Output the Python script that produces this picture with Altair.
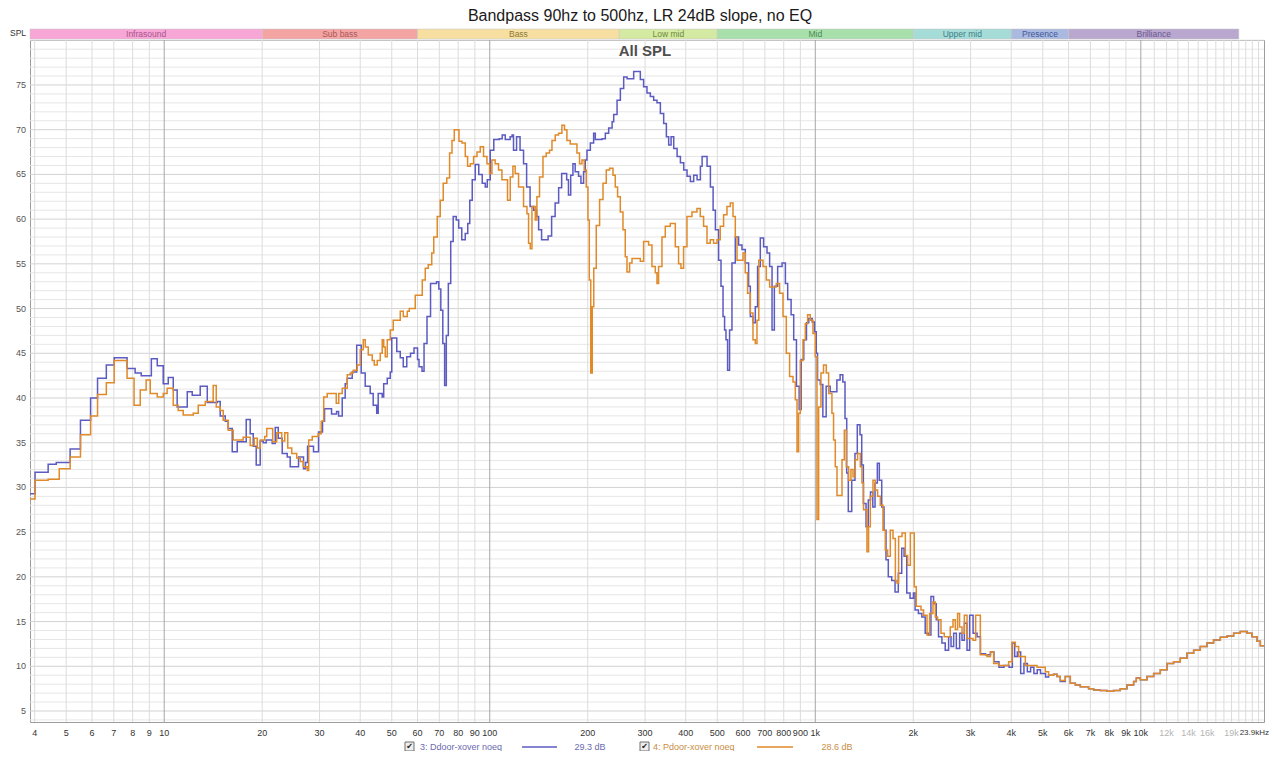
import altair as alt
import pandas as pd

# ---------------- text ----------------
title_text = "Bandpass 90hz to 500hz, LR 24dB slope, no EQ"
inner_title = "All SPL"
axis_name = "SPL"
series_names = ["3: Ddoor-xover noeq", "4: Pdoor-xover noeq"]
series_levels = ["29.3 dB", "28.6 dB"]
series_colors = ["#5b5bc2", "#e08a2a"]
legend_text_colors = ["#6a6ab0", "#c98d45"]

# ---------------- data (frequency Hz, level dB) ----------------
ddoor_points = [
    (3.87, 29.3), (4.01, 31.7), (4.40, 32.6), (4.66, 32.8), (5.14, 34.3), (5.53, 37.5), (5.94, 40.0),
    (6.24, 42.2), (6.64, 43.7), (7.02, 44.5), (7.69, 43.3), (8.14, 42.8), (8.50, 42.5), (9.13, 44.4),
    (9.52, 43.6), (9.93, 41.6), (10.29, 42.3), (10.66, 40.9), (10.96, 39.0), (11.77, 40.7), (12.19, 40.3),
    (12.90, 41.3), (13.56, 39.5), (14.55, 39.6), (14.86, 38.0), (15.40, 37.4), (15.72, 36.6), (16.18, 34.0),
    (16.76, 35.1), (17.86, 37.6), (18.37, 36.0), (18.77, 34.6), (19.17, 32.5), (19.72, 35.2), (20.14, 35.0),
    (20.57, 35.3), (21.47, 34.9), (21.93, 36.7), (22.40, 35.5), (23.04, 33.8), (23.87, 33.4), (24.38, 32.3),
    (25.86, 33.4), (26.79, 32.1), (27.17, 32.8), (27.56, 34.6), (28.75, 34.0), (29.79, 36.2), (30.64, 37.4),
    (31.08, 38.8), (32.66, 38.2), (33.84, 38.5), (34.33, 38.0), (35.22, 40.0), (35.97, 41.6), (36.48, 42.2),
    (37.80, 42.9), (39.02, 45.9), (40.28, 42.8), (41.44, 41.3), (42.93, 40.5), (43.85, 39.2), (44.95, 38.3),
    (45.43, 40.5), (46.73, 40.1), (47.23, 41.6), (48.43, 42.2), (49.47, 42.9), (50.0, 46.7), (51.80, 45.2),
    (53.10, 44.5), (54.24, 43.5), (55.60, 44.6), (57.10, 45.0), (58.53, 45.6), (60.0, 44.3), (60.64, 43.5),
    (61.94, 43.0), (62.83, 46.1), (64.16, 49.1), (65.78, 52.8), (68.63, 53.0), (69.75, 52.2), (70.74, 49.8),
    (71.75, 46.1), (72.67, 41.4), (73.55, 47.0), (74.60, 52.8), (75.87, 57.5), (77.22, 60.3), (78.89, 59.9),
    (80.28, 59.0), (82.04, 57.7), (84.09, 58.4), (85.59, 59.5), (86.81, 62.1), (88.35, 64.4), (90.25, 66.1),
    (92.52, 65.0), (94.83, 64.0), (96.87, 63.6), (98.25, 64.4), (100.35, 67.7), (102.9, 68.9), (106.9, 69.0),
    (109.2, 69.4), (111.6, 68.9), (115.5, 69.2), (117.1, 69.4), (118.3, 67.7), (120.9, 69.2), (123.9, 67.7),
    (127.0, 66.2), (129.8, 63.6), (133.0, 61.4), (136.4, 61.0), (139.3, 60.3), (141.3, 58.8), (144.3, 57.7),
    (151.1, 58.1), (154.9, 60.3), (158.8, 61.8), (162.8, 63.5), (166.3, 65.1), (172.3, 64.4), (174.5, 62.7),
    (177.3, 64.9), (180.1, 66.2), (183.0, 65.3), (187.4, 64.8), (190.6, 64.0), (194.2, 65.3), (196.5, 66.6),
    (198.9, 67.7), (203.7, 68.5), (208.5, 69.6), (211.0, 68.9), (221.2, 69.0), (226.5, 69.6), (231.9, 70.2),
    (237.6, 70.9), (240.3, 71.7), (246.1, 73.3), (251.9, 74.6), (257.9, 75.9), (264.2, 75.7), (276.8, 76.5),
    (290.1, 75.6), (296.9, 74.8), (304.1, 74.1), (311.4, 73.7), (318.8, 73.3), (326.4, 73.0), (334.3, 71.8),
    (342.2, 70.7), (348.8, 69.2), (354.5, 68.3), (360.6, 69.2), (367.4, 67.9), (376.3, 67.0), (385.2, 66.3),
    (394.3, 65.5), (403.7, 64.8), (413.3, 64.2), (423.1, 64.9), (433.4, 64.4), (443.7, 65.9), (449.1, 67.0),
    (465.1, 65.9), (476.2, 63.6), (485.4, 61.0), (493.3, 58.8), (504.7, 55.4), (513.3, 52.5), (520.7, 49.1),
    (526.5, 47.6), (531.7, 46.5), (537.8, 43.1), (545.4, 47.6), (554.7, 55.1), (567.9, 58.0), (581.4, 57.1),
    (595.5, 56.6), (609.6, 55.1), (624.0, 52.5), (631.6, 49.1), (643.7, 48.4), (654.2, 50.2), (664.9, 54.7),
    (677.8, 57.9), (693.8, 56.9), (710.8, 56.2), (724.0, 54.7), (736.5, 47.6), (748.6, 52.5), (766.3, 54.7),
    (790.6, 55.1), (809.4, 52.8), (822.7, 51.0), (842.8, 49.3), (858.5, 46.5), (875.2, 41.3), (892.2, 38.7),
    (905.0, 44.3), (921.8, 46.5), (939.6, 48.4), (955.0, 48.9), (978.3, 48.5), (994.3, 47.4), (1007, 45.0),
    (1016, 42.0), (1036, 41.5), (1055, 37.9), (1080, 41.3), (1111, 40.7), (1165, 42.0), (1192, 42.6),
    (1215, 41.8), (1234, 37.7), (1249, 31.6), (1263, 27.3), (1294, 30.8), (1324, 33.8), (1346, 37.0),
    (1372, 35.9), (1389, 32.5), (1405, 28.2), (1432, 25.6), (1455, 28.6), (1478, 29.5), (1502, 27.8),
    (1526, 30.5), (1551, 32.7), (1573, 30.8), (1600, 27.8), (1626, 25.2), (1649, 21.9), (1676, 20.0),
    (1717, 19.6), (1758, 18.3), (1799, 20.4), (1843, 23.2), (1874, 22.3), (1910, 18.2), (1955, 17.6),
    (2002, 18.2), (2026, 16.3), (2074, 15.9), (2125, 15.5), (2176, 13.7), (2228, 13.5), (2266, 17.8),
    (2309, 17.0), (2353, 15.2), (2391, 13.3), (2449, 12.6), (2507, 11.8), (2568, 13.3), (2612, 12.2),
    (2661, 13.7), (2712, 12.0), (2776, 13.7), (2823, 12.9), (2870, 14.8), (2925, 11.8), (2980, 15.7),
    (3053, 13.7), (3141, 13.3), (3216, 11.4), (3333, 11.3), (3455, 11.6), (3538, 10.5), (3666, 9.9),
    (3799, 10.1), (3937, 9.9), (4031, 12.6), (4097, 11.1), (4176, 11.6), (4275, 9.2), (4375, 10.3),
    (4481, 9.4), (4586, 9.9), (4694, 9.2), (4807, 9.6), (4919, 9.2), (5097, 8.8),
    (5209, 9.0), (5397, 9.1), (5528, 8.85), (5657, 8.3), (5861, 8.85), (6073, 8.1), (6293, 7.9),
    (6519, 7.7), (6911, 7.5), (7161, 7.35), (7508, 7.3), (7874, 7.2), (8249, 7.3), (8650, 7.5),
    (9069, 7.9), (9504, 8.3), (9687, 8.7), (9965, 8.5), (10450, 8.85), (10950, 9.2), (11480, 9.6),
    (12040, 10.3), (12610, 10.5), (13220, 10.9), (13860, 11.45), (14530, 11.8), (15230, 12.2),
    (15970, 12.6), (16730, 12.95), (17550, 13.25), (18400, 13.4), (19280, 13.7), (20210, 13.9),
    (21200, 13.7), (21960, 13.3), (22750, 12.8), (23290, 12.3), (23900, 12.2),
]

pdoor_points = [
    (3.87, 28.7), (4.01, 30.8), (4.40, 30.9), (4.76, 32.1), (5.14, 33.4), (5.53, 35.9), (5.94, 38.0),
    (6.24, 40.4), (6.64, 41.7), (7.02, 44.2), (7.69, 42.2), (8.08, 39.2), (8.44, 40.9), (8.80, 42.0),
    (9.06, 40.5), (9.52, 40.1), (9.93, 40.5), (10.21, 41.1), (10.66, 39.2), (11.04, 38.6), (11.44, 38.1),
    (12.28, 38.3), (12.72, 39.2), (13.37, 39.6), (14.14, 41.4), (14.45, 39.0), (14.86, 38.6), (15.18, 37.5),
    (15.72, 36.4), (16.29, 35.3), (17.48, 35.6), (18.37, 34.7), (18.90, 35.5), (19.31, 34.4), (19.72, 35.3),
    (20.36, 35.7), (20.65, 36.6), (21.54, 35.1), (22.16, 36.1), (22.96, 35.2), (23.46, 36.1), (23.96, 34.4),
    (24.65, 33.8), (25.53, 33.3), (26.17, 32.9), (26.73, 32.3), (27.50, 31.9), (27.79, 35.3), (28.49, 35.7),
    (29.72, 36.0), (30.36, 37.4), (30.90, 40.1), (31.68, 40.5), (33.76, 39.4), (34.37, 40.5), (35.23, 41.1),
    (36.50, 42.6), (37.28, 42.8), (38.08, 43.1), (39.17, 43.7), (40.01, 45.4), (40.87, 46.5), (41.46, 45.7),
    (42.35, 44.8), (43.55, 44.2), (44.18, 43.7), (45.12, 44.2), (46.09, 45.0), (46.74, 46.5), (47.24, 45.7),
    (47.75, 44.6), (48.43, 46.5), (49.47, 47.6), (50.53, 48.7), (53.10, 49.7), (54.25, 49.1), (55.80, 49.7),
    (56.60, 50.0), (59.04, 51.5), (62.04, 53.2), (63.37, 54.5), (64.73, 54.9), (66.34, 56.2), (67.30, 58.0),
    (68.98, 60.3), (70.46, 62.1), (71.97, 64.0), (73.79, 64.6), (75.27, 67.4), (76.56, 68.8), (77.81, 70.0),
    (80.44, 68.7), (82.17, 68.5), (84.11, 67.0), (85.49, 65.9), (87.14, 66.2), (89.19, 67.0), (91.37, 67.5),
    (93.51, 68.1), (95.70, 67.0), (98.03, 66.2), (99.86, 65.1), (101.55, 66.6), (103.9, 66.2), (106.4, 65.5),
    (109.0, 64.4), (113.4, 62.1), (115.6, 64.7), (117.8, 65.9), (119.7, 65.1), (122.6, 63.6), (127.0, 61.4),
    (130.1, 60.6), (131.6, 57.3), (133.2, 56.7), (134.8, 61.4), (138.0, 59.9), (139.6, 62.5), (142.2, 64.7),
    (145.7, 67.0), (149.1, 67.4), (152.6, 67.7), (155.3, 68.8), (158.9, 69.4), (162.7, 69.6), (166.6, 70.5),
    (169.7, 70.0), (172.6, 68.8), (176.7, 68.4), (185.3, 67.4), (188.7, 66.2), (192.0, 66.6), (195.1, 65.5),
    (197.9, 63.6), (200.3, 59.9), (202.2, 53.2), (204.3, 42.8), (206.5, 50.2), (208.7, 54.5), (212.4, 59.3),
    (217.5, 62.2), (222.8, 64.0), (228.0, 65.5), (233.4, 65.7), (239.1, 64.9), (243.0, 63.6), (247.0, 62.5),
    (251.8, 60.8), (256.6, 58.8), (260.8, 55.8), (264.0, 54.1), (268.9, 55.1), (273.5, 55.6), (290.0, 55.3),
    (296.9, 57.5), (307.6, 57.1), (315.0, 54.7), (322.5, 54.0), (326.4, 52.8), (330.1, 54.7), (338.1, 58.0),
    (346.1, 59.2), (358.5, 59.5), (371.5, 56.9), (380.2, 55.0), (386.7, 54.5), (393.9, 56.9), (403.5, 60.3),
    (418.0, 60.8), (433.0, 61.2), (443.3, 60.3), (453.8, 59.2), (464.9, 57.3), (475.8, 57.7), (487.1, 57.3),
    (498.9, 57.7), (510.6, 59.2), (522.8, 60.5), (535.5, 61.4), (548.2, 61.8), (558.8, 60.3), (567.9, 58.0),
    (574.9, 55.4), (588.4, 55.4), (599.8, 56.2), (609.5, 54.0), (619.5, 51.7), (631.4, 49.5), (643.6, 46.5),
    (654.2, 46.1), (662.1, 48.7), (670.6, 55.4), (690.8, 54.7), (707.2, 53.2), (723.9, 52.4), (759.0, 52.8),
    (776.9, 51.7), (795.9, 49.1), (814.6, 45.0), (833.8, 42.4), (854.2, 41.8), (868.3, 39.8), (878.8, 34.0),
    (888.8, 38.3), (899.5, 44.2), (916.8, 46.5), (931.8, 48.3), (947.3, 49.3), (965.0, 48.7), (983.8, 47.2),
    (1000, 44.6), (1012, 26.4), (1024, 39.0), (1041, 42.8), (1060, 43.7), (1081, 42.8), (1099, 40.5),
    (1125, 38.3), (1138, 35.3), (1152, 32.3), (1166, 29.1), (1208, 33.1), (1228, 36.4), (1245, 32.3),
    (1266, 30.8), (1287, 32.0), (1306, 31.2), (1327, 33.1), (1349, 33.8), (1375, 32.3), (1391, 30.5),
    (1407, 27.5), (1441, 22.8), (1458, 25.6), (1476, 29.0), (1504, 30.8), (1529, 29.7), (1554, 29.0),
    (1584, 28.0), (1614, 25.2), (1641, 23.0), (1668, 22.3), (1700, 25.2), (1733, 24.3), (1762, 19.6),
    (1782, 19.3), (1803, 24.5), (1847, 24.9), (1891, 22.4), (1922, 21.3), (1959, 24.9), (2014, 18.9),
    (2043, 16.7), (2112, 16.3), (2151, 15.7), (2204, 13.5), (2245, 15.9), (2299, 17.2), (2337, 15.5),
    (2375, 15.2), (2433, 13.7), (2490, 13.3), (2598, 14.4), (2649, 15.2), (2692, 14.1), (2736, 15.9),
    (2775, 14.4), (2823, 13.7), (2870, 15.7), (2925, 13.1), (3052, 12.9), (3109, 15.7), (3214, 11.3),
    (3370, 11.1), (3449, 11.6), (3531, 10.3), (3658, 10.1), (3926, 10.5), (4021, 12.7), (4116, 12.2),
    (4214, 11.1), (4418, 10.1), (4799, 9.9), (5088, 9.4),
    (5209, 9.0), (5397, 9.1), (5528, 8.85), (5657, 8.4), (5861, 8.85), (6073, 8.1), (6293, 7.9),
    (6519, 7.7), (6911, 7.5), (7161, 7.35), (7508, 7.3), (7874, 7.2), (8249, 7.3), (8650, 7.5),
    (9069, 7.9), (9504, 8.3), (9687, 8.7), (9965, 8.5), (10450, 8.85), (10950, 9.2), (11480, 9.6),
    (12040, 10.3), (12610, 10.5), (13220, 10.9), (13860, 11.45), (14530, 11.8), (15230, 12.2),
    (15970, 12.6), (16730, 12.95), (17550, 13.25), (18400, 13.4), (19280, 13.7), (20210, 13.9),
    (21200, 13.7), (21960, 13.3), (22750, 12.8), (23290, 12.3), (23900, 12.2),
]

# ---------------- frequency bands ----------------
band_names = ["Infrasound", "Sub bass", "Bass", "Low mid", "Mid", "Upper mid", "Presence", "Brilliance"]
band_start = [3.87, 20, 60, 250, 500, 2000, 4000, 6000]
band_end = [20, 60, 250, 500, 2000, 4000, 6000, 20000]
band_fill = ["#f7a6d6", "#f5a4a4", "#f6dfa0", "#d4e9a2", "#a7e0aa", "#a5dcd8", "#a9b9e0", "#b9a7d0"]
band_text_color = ["#a8558a", "#a85a5a", "#8c7838", "#6d8a3a", "#4b8a55", "#3f8085", "#42579a", "#6a5a8c"]

# ---------------- axis ticks ----------------
x_label_values = [4, 5, 6, 7, 8, 9, 10, 20, 30, 40, 50, 60, 70, 80, 90, 100, 200, 300, 400, 500, 600, 700,
                  800, 900, 1000, 2000, 3000, 4000, 5000, 6000, 7000, 8000, 9000, 10000, 12000, 14000, 16000, 19000]
x_label_texts = ["4", "5", "6", "7", "8", "9", "10", "20", "30", "40", "50", "60", "70", "80", "90", "100",
                 "200", "300", "400", "500", "600", "700", "800", "900", "1k", "2k", "3k", "4k", "5k", "6k",
                 "7k", "8k", "9k", "10k", "12k", "14k", "16k", "19k"]
x_label_faint = ["12k", "14k", "16k", "19k"]
x_end_label = "23.9kHz"
x_grid_minor = [4, 5, 6, 7, 8, 9, 20, 30, 40, 50, 60, 70, 80, 90, 200, 300, 400, 500, 600, 700, 800, 900,
                2000, 3000, 4000, 5000, 6000, 7000, 8000, 9000, 11000, 12000, 13000, 14000, 15000, 16000,
                17000, 18000, 19000, 20000, 21000, 22000, 23000]
x_grid_major = [10, 100, 1000, 10000]
y_label_values = [5, 10, 15, 20, 25, 30, 35, 40, 45, 50, 55, 60, 65, 70, 75]
y_grid_values = list(range(4, 81))

# ---------------- layout ----------------
W, H = 1234, 682
F_MIN, F_MAX = 3.87, 23900
DB_MIN, DB_MAX = 3.77, 80.03
FONT = "Liberation Sans"

xs = alt.Scale(type="log", domain=[F_MIN, F_MAX], nice=False)
ys = alt.Scale(type="linear", domain=[DB_MIN, DB_MAX], nice=False, zero=False)


def X(field="freq"):
    return alt.X(f"{field}:Q", scale=xs, axis=None)


def Y(field="db"):
    return alt.Y(f"{field}:Q", scale=ys, axis=None)


# grid
ygrid_df = pd.DataFrame({"db": y_grid_values})
ygrid_df["major"] = ygrid_df["db"] % 5 == 0
hgrid_minor = alt.Chart(ygrid_df[~ygrid_df["major"]]).mark_rule(color="#e6e6e6", strokeWidth=1).encode(
    y=Y(), x=alt.value(0), x2=alt.value(W))
hgrid_major = alt.Chart(ygrid_df[ygrid_df["major"]]).mark_rule(color="#d2d2d2", strokeWidth=1).encode(
    y=Y(), x=alt.value(0), x2=alt.value(W))
vgrid_minor = alt.Chart(pd.DataFrame({"freq": x_grid_minor})).mark_rule(color="#dcdcdc", strokeWidth=1).encode(
    x=X(), y=alt.value(0), y2=alt.value(H))
vgrid_major = alt.Chart(pd.DataFrame({"freq": x_grid_major})).mark_rule(color="#a6a6a6", strokeWidth=1).encode(
    x=X(), y=alt.value(0), y2=alt.value(H))

# curves
curve_df = pd.concat([
    pd.DataFrame(ddoor_points, columns=["freq", "db"]).assign(series=series_names[0]),
    pd.DataFrame(pdoor_points, columns=["freq", "db"]).assign(series=series_names[1]),
], ignore_index=True)
curves = alt.Chart(curve_df).mark_line(interpolate="step-after", strokeWidth=1.5, clip=True).encode(
    x=X(), y=Y(),
    color=alt.Color("series:N", scale=alt.Scale(domain=series_names, range=series_colors), legend=None),
)

# bands
band_df = pd.DataFrame({"name": band_names, "start": band_start, "end": band_end,
                        "fill": band_fill, "tcol": band_text_color})
bands = alt.Chart(band_df).mark_rect(stroke="#c4c4c4", strokeWidth=0.5).encode(
    x=X("start"), x2="end", y=alt.value(-11), y2=alt.value(-1),
    fill=alt.Color("fill:N", scale=None))
band_labels = alt.Chart(band_df).transform_calculate(mid="sqrt(datum.start * datum.end)").mark_text(
    font=FONT, fontSize=8.5, baseline="middle", align="center").encode(
    x=X("mid"), y=alt.value(-6), text="name:N", color=alt.Color("tcol:N", scale=None))

# axis labels
xl_df = pd.DataFrame({"freq": x_label_values, "label": x_label_texts})
xl_df["col"] = ["#b4b4b4" if t in x_label_faint else "#333333" for t in x_label_texts]
x_labels = alt.Chart(xl_df).mark_text(font=FONT, fontSize=9, baseline="middle", align="center").encode(
    x=X(), y=alt.value(H + 11), text="label:N", color=alt.Color("col:N", scale=None))
x_end = alt.Chart(pd.DataFrame({"t": [x_end_label]})).mark_text(
    font=FONT, fontSize=8, baseline="middle", align="right", color="#333333").encode(
    x=alt.value(W + 5), y=alt.value(H + 11), text="t:N")
y_labels = alt.Chart(pd.DataFrame({"db": y_label_values})).mark_text(
    font=FONT, fontSize=9, baseline="middle", align="right", color="#555555").encode(
    y=Y(), x=alt.value(-4), text=alt.Text("db:Q", format="d"))

# titles
title = alt.Chart(pd.DataFrame({"t": [title_text]})).mark_text(
    font=FONT, fontSize=16, baseline="alphabetic", align="center", color="#1a1a1a").encode(
    x=alt.value(610), y=alt.value(-19), text="t:N")
inner = alt.Chart(pd.DataFrame({"t": [inner_title]})).mark_text(
    font=FONT, fontSize=15, fontWeight="bold", baseline="middle", align="center", color="#4e4e4e").encode(
    x=alt.value(615), y=alt.value(11), text="t:N")
spl = alt.Chart(pd.DataFrame({"t": [axis_name]})).mark_text(
    font=FONT, fontSize=8.5, baseline="middle", align="center", color="#333333").encode(
    x=alt.value(-12), y=alt.value(-7), text="t:N")

# legend (custom, below the plot)
LEG_Y = H + 25
leg_layers = []
leg_x = [(375, 390, 492, 527, 560), (610, 623, 727, 763, 807)]
for i, (cb, lx, l0, l1, vx) in enumerate(leg_x):
    one = pd.DataFrame({"name": [series_names[i]], "lvl": [series_levels[i]]})
    leg_layers.append(alt.Chart(one).mark_rect(fill="#eeeeee", stroke="#6e6e6e", strokeWidth=1).encode(
        x=alt.value(cb), x2=alt.value(cb + 9), y=alt.value(LEG_Y - 5), y2=alt.value(LEG_Y + 4)))
    leg_layers.append(alt.Chart(one).mark_text(font="DejaVu Sans", fontSize=8, color="#222222",
                                               baseline="middle", align="center").encode(
        x=alt.value(cb + 4.5), y=alt.value(LEG_Y), text=alt.value("✔")))
    leg_layers.append(alt.Chart(one).mark_text(font=FONT, fontSize=9, baseline="middle", align="left",
                                               color=legend_text_colors[i]).encode(
        x=alt.value(lx), y=alt.value(LEG_Y), text="name:N"))
    leg_layers.append(alt.Chart(one).mark_rule(color=series_colors[i], strokeWidth=1.5).encode(
        x=alt.value(l0), x2=alt.value(l1), y=alt.value(LEG_Y)))
    leg_layers.append(alt.Chart(one).mark_text(font=FONT, fontSize=9, baseline="middle", align="center",
                                               color=legend_text_colors[i]).encode(
        x=alt.value(vx), y=alt.value(LEG_Y), text="lvl:N"))

chart = alt.layer(
    hgrid_minor, hgrid_major, vgrid_minor, vgrid_major, curves,
    bands, band_labels, x_labels, x_end, y_labels, title, inner, spl, *leg_layers
).properties(
    width=W, height=H,
    padding={"left": 22, "top": 32, "right": 6, "bottom": 29},
    autosize=alt.AutoSizeParams(type="none"),
    background="white",
).configure_view(stroke="#9c9c9c", strokeWidth=1)

chart.save("out.html", embed_options={"renderer": "svg", "actions": False})
